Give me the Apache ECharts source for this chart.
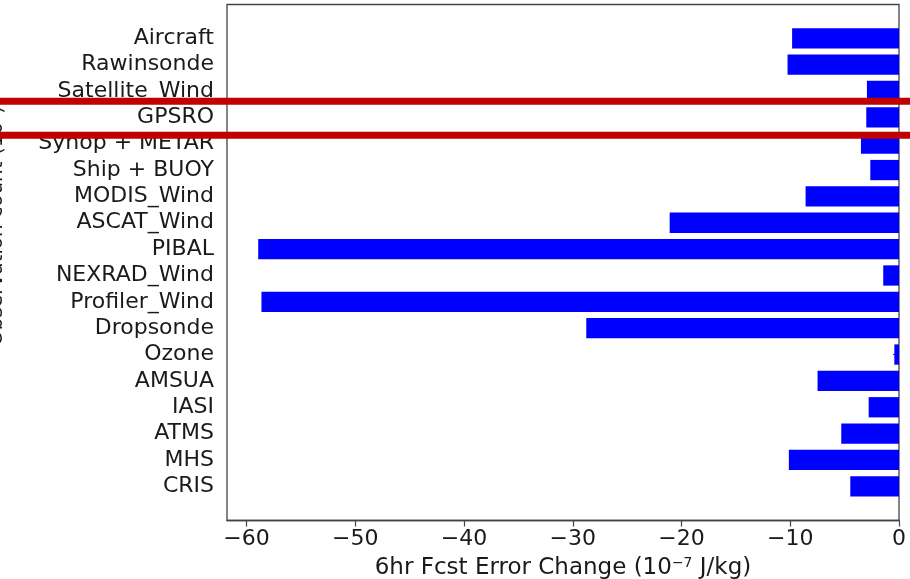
<!DOCTYPE html>
<html>
<head>
<meta charset="utf-8">
<script src="https://cdn.jsdelivr.net/npm/echarts@6/dist/echarts.min.js"></script>
<style>html,body{margin:0;padding:0;background:#fff;}#chart{width:910px;height:579px;}</style>
</head>
<body>
<div id="chart"></div>
<script>
const categories = ["Aircraft","Rawinsonde","Satellite_Wind","GPSRO","Synop + METAR","Ship + BUOY","MODIS_Wind","ASCAT_Wind","PIBAL","NEXRAD_Wind","Profiler_Wind","Dropsonde","Ozone","AMSUA","IASI","ATMS","MHS","CRIS"];
const errorChange = [-9.83,-10.25,-2.95,-3.01,-3.50,-2.64,-8.59,-21.09,-58.93,-1.45,-58.63,-28.76,-0.43,-7.49,-2.79,-5.31,-10.13,-4.48];
const xTicks = [-60,-50,-40,-30,-20,-10,0];
const xMin = -61.8, xMax = 0;

const FONT = 'DejaVu Sans';
const chart = echarts.init(document.getElementById('chart'), null, {renderer:'canvas'});
chart.setOption({
  animation:false,
  backgroundColor:'#ffffff',
  textStyle:{fontFamily:FONT},
  grid:[
    {left:227, right:11, top:4.5, bottom:58.5, show:true, borderColor:'#444', borderWidth:1.3, backgroundColor:'transparent', containLabel:false, outerBoundsMode:'none'},
    {left:227, right:11, top:25.1, bottom:79.5, containLabel:false, outerBoundsMode:'none'}
  ],
  xAxis:[
    {gridIndex:0, type:'value', min:xMin, max:xMax,
     axisLine:{show:true, lineStyle:{color:'#444', width:1.3}},
     axisTick:{show:true, length:6, lineStyle:{color:'#444', width:1.2}, customValues:xTicks},
     axisLabel:{show:true, margin:8, fontSize:22, color:'#1a1a1a', fontFamily:FONT, customValues:xTicks,
       formatter:v => (v<0 ? '\u2212' + Math.abs(v) : String(v))},
     splitLine:{show:false},
     name:'6hr Fcst Error Change (10{sup|\u22127} J/kg)', nameLocation:'middle', nameGap:36,
     nameTextStyle:{fontSize:23, color:'#1a1a1a', fontFamily:FONT,
       rich:{sup:{fontSize:14, verticalAlign:'top', padding:[0,0,10,0], color:'#1a1a1a', fontFamily:FONT}}}
    },
    {gridIndex:1, type:'value', min:xMin, max:xMax, show:false}
  ],
  yAxis:[
    {gridIndex:0, type:'value', min:0, max:1, axisLine:{show:false}, axisTick:{show:false}, axisLabel:{show:false}, splitLine:{show:false}},
    {gridIndex:1, type:'category', data:categories, inverse:true,
     axisLine:{show:false},
     axisTick:{show:true, alignWithLabel:true, interval:0, length:6, lineStyle:{color:'#444', width:1.2}},
     axisLabel:{interval:0, margin:13, fontSize:22, color:'#1a1a1a', fontFamily:FONT, padding:[4,0,0,0]},
     splitLine:{show:false}
    }
  ],
  series:[{
    type:'bar', xAxisIndex:1, yAxisIndex:1, data:errorChange,
    barWidth:'77%', itemStyle:{color:'#0000ff'}, z:3
  }],
  graphic:[
    {type:'text', x:7, y:226, rotation:Math.PI/2, z:1,
     style:{text:'Observation count (10\u2075)', font:'20px "DejaVu Sans"', fill:'#1a1a1a', align:'center', verticalAlign:'bottom'}},
    {type:'line', z:100, shape:{x1:0, y1:101.3, x2:910, y2:101.3}, style:{stroke:'#c00000', lineWidth:7}},
    {type:'line', z:100, shape:{x1:0, y1:135.2, x2:910, y2:135.2}, style:{stroke:'#c00000', lineWidth:7}}
  ]
});
</script>
</body>
</html>
